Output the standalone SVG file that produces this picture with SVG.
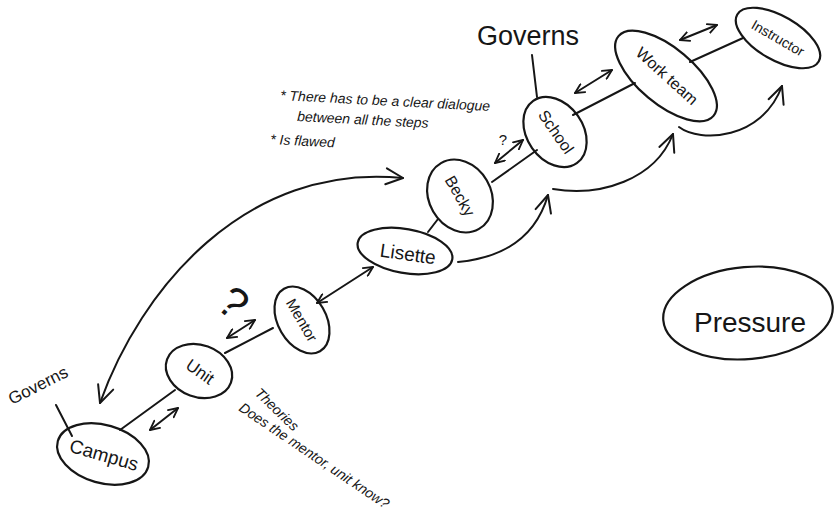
<svg xmlns="http://www.w3.org/2000/svg" width="834" height="516" viewBox="0 0 834 516">
<style>
.n ellipse{fill:none;stroke:#161616;stroke-width:2.2}
.c path,.c line{fill:none;stroke:#161616;stroke-width:2;stroke-linecap:round;stroke-linejoin:round}
text{font-family:"Liberation Sans",Arial,sans-serif;fill:#161616}
.lb{text-anchor:middle;dominant-baseline:central}
.note{font-size:14px;font-style:italic}
</style>
<defs>
<marker id="s" viewBox="0 0 12 12" refX="11" refY="6" markerWidth="11" markerHeight="11" markerUnits="userSpaceOnUse" orient="auto-start-reverse">
<path d="M1,1 L11,6 L1,11" fill="none" stroke="#161616" stroke-width="2" stroke-linecap="round" stroke-linejoin="round"/>
</marker>
<marker id="b" viewBox="0 0 20 20" refX="19" refY="10" markerWidth="20" markerHeight="20" markerUnits="userSpaceOnUse" orient="auto-start-reverse">
<path d="M2,2 L19,10 L2,18" fill="none" stroke="#161616" stroke-width="2" stroke-linecap="round" stroke-linejoin="round"/>
</marker>
</defs>
<rect width="834" height="516" fill="#ffffff"/>

<g id="connectors" class="c">
<line x1="120" y1="430" x2="175" y2="390"/>
<line x1="225" y1="353" x2="273" y2="328"/>
<line x1="317" y1="303" x2="373" y2="267" marker-start="url(#s)" marker-end="url(#s)"/>
<line x1="428" y1="232" x2="438" y2="219"/>
<line x1="492" y1="182" x2="537" y2="150"/>
<line x1="573" y1="115" x2="635" y2="83"/>
<line x1="690" y1="62" x2="743" y2="38"/>
<line x1="532" y1="55" x2="537" y2="97"/>
<line x1="56" y1="405" x2="72" y2="436"/>
<line x1="150" y1="430" x2="178" y2="408" marker-start="url(#s)" marker-end="url(#s)"/>
<line x1="227" y1="338" x2="255" y2="320" marker-start="url(#s)" marker-end="url(#s)"/>
<line x1="495" y1="163" x2="523" y2="140" marker-start="url(#s)" marker-end="url(#s)"/>
<line x1="575" y1="93" x2="612" y2="70" marker-start="url(#s)" marker-end="url(#s)"/>
<line x1="680" y1="40" x2="717" y2="25" marker-start="url(#s)" marker-end="url(#s)"/>
<path d="M100,403 C140,290 245,162 403,178" marker-start="url(#b)" marker-end="url(#b)"/>
<path d="M458,262 C500,258 535,240 548,195" marker-end="url(#b)"/>
<path d="M553,189 C600,197 655,180 673,134" marker-end="url(#b)"/>
<path d="M679,127 C700,143 762,140 782,86" marker-end="url(#b)"/>
</g>

<g id="campus" class="n">
<ellipse cx="103" cy="454" rx="47" ry="29" transform="rotate(16 103 454)"/>
<text class="lb" x="104" y="455" font-size="19" transform="rotate(16 104 455)">Campus</text>
</g>
<g id="unit" class="n">
<ellipse cx="199" cy="371" rx="34" ry="26" transform="rotate(20 199 371)"/>
<text class="lb" x="200" y="372" font-size="17" transform="rotate(35 200 372)">Unit</text>
</g>
<g id="mentor" class="n">
<ellipse cx="302" cy="320" rx="36" ry="24" transform="rotate(60 302 320)"/>
<text class="lb" x="302" y="320" font-size="15" transform="rotate(60 302 320)">Mentor</text>
</g>
<g id="lisette" class="n">
<ellipse cx="405" cy="251" rx="48" ry="22" transform="rotate(10 405 251)"/>
<text class="lb" x="408" y="254" font-size="19" transform="rotate(8 408 254)">Lisette</text>
</g>
<g id="becky" class="n">
<ellipse cx="460" cy="196" rx="38" ry="31" transform="rotate(60 460 196)"/>
<text class="lb" x="460" y="196" font-size="16" transform="rotate(60 460 196)">Becky</text>
</g>
<g id="school" class="n">
<ellipse cx="555" cy="132" rx="38" ry="28" transform="rotate(55 555 132)"/>
<text class="lb" x="556" y="132" font-size="16" transform="rotate(55 556 132)">School</text>
</g>
<g id="workteam" class="n">
<ellipse cx="666" cy="76" rx="62" ry="28" transform="rotate(40 666 76)"/>
<text class="lb" x="667" y="76" font-size="16" transform="rotate(42 667 76)">Work team</text>
</g>
<g id="instructor" class="n">
<ellipse cx="778" cy="38" rx="47" ry="22" transform="rotate(30 778 38)"/>
<text class="lb" x="778" y="38" font-size="14" transform="rotate(30 778 38)">Instructor</text>
</g>
<g id="pressure" class="n">
<ellipse cx="748" cy="313" rx="85" ry="46" transform="rotate(-5 748 313)"/>
<text class="lb" x="750" y="322" font-size="28">Pressure</text>
</g>

<g id="annotations">
<text x="477" y="45" font-size="27">Governs</text>
<text x="12" y="405" font-size="17" transform="rotate(-27 12 405)">Governs</text>
<text x="234" y="318" font-size="44" text-anchor="middle" transform="rotate(40 234 302)">?</text>
<text x="503" y="145" font-size="15" text-anchor="middle">?</text>
<text class="note" x="280" y="100" transform="rotate(3 280 100)">* There has to be a clear dialogue</text>
<text class="note" x="297" y="121" transform="rotate(3 297 121)">between all the steps</text>
<text class="note" x="270" y="144" transform="rotate(3 270 144)">* Is flawed</text>
<text class="note" font-size="12" x="254" y="394" transform="rotate(44 254 394)">Theories</text>
<text class="note" font-size="11" x="238" y="410" transform="rotate(34 238 410)">Does the mentor, unit know?</text>
</g>
</svg>
